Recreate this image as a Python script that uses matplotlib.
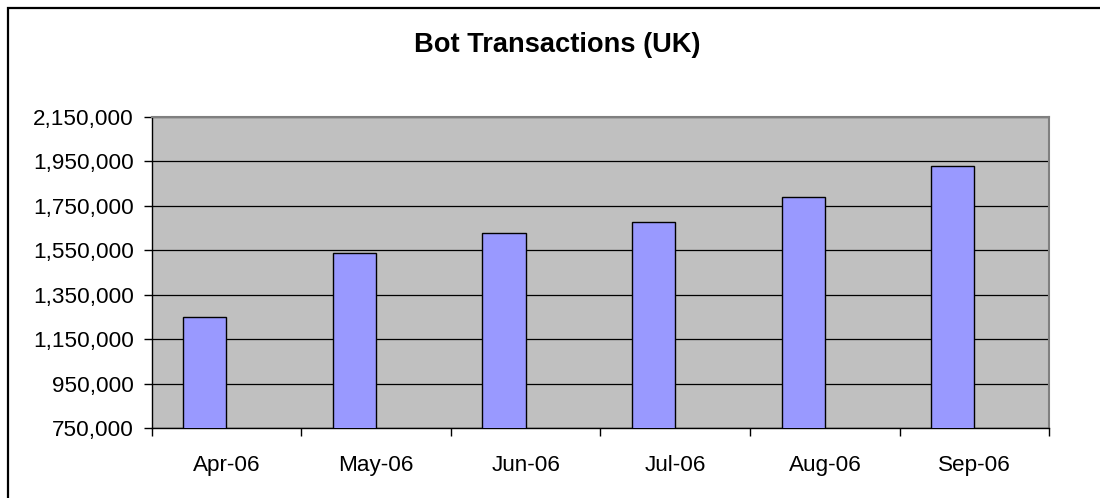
import matplotlib
matplotlib.use("Agg")
import matplotlib.pyplot as plt
from matplotlib.ticker import FuncFormatter, FixedLocator
from matplotlib.patches import Rectangle

months = ["Apr-06", "May-06", "Jun-06", "Jul-06", "Aug-06", "Sep-06"]
transactions = [1251000, 1536000, 1626000, 1675000, 1789000, 1928000]
y_ticks = [750000, 950000, 1150000, 1350000, 1550000, 1750000, 1950000, 2150000]
title = "Bot Transactions (UK)"

plt.rcParams['font.family'] = ['Liberation Sans', 'DejaVu Sans']

W, H = 1100, 498
fig = plt.figure(figsize=(W / 100, H / 100), dpi=100)
fig.patch.set_facecolor("white")

# outer chart frame (only top and left edges visible)
fig.patches.append(Rectangle((8 / W, -0.1), 1.2, (H - 8) / H + 0.1, transform=fig.transFigure,
                             fill=False, edgecolor="#000000", linewidth=1.6, zorder=0))

left, right = 151.7 / W, 1049.3 / W
top, bottom = (H - 116.7) / H, (H - 428.3) / H
ax = fig.add_axes([left, bottom, right - left, top - bottom])
ax.set_facecolor("#C0C0C0")

x = list(range(len(months)))
bar_w = 0.29
ax.bar([i - bar_w for i in x], transactions, width=bar_w, align="edge",
       color="#9999FF", edgecolor="#000000", linewidth=1.0, zorder=3)

ax.set_xlim(-0.5, len(months) - 0.5)
ax.set_ylim(y_ticks[0], y_ticks[-1])
ax.set_yticks(y_ticks)
ax.yaxis.set_major_formatter(FuncFormatter(lambda v, p: f"{int(v):,}"))
ax.yaxis.grid(True, color="#000000", linewidth=0.9, zorder=1)
ax.set_axisbelow(True)

ax.set_xticks(x)
ax.set_xticklabels(months)
ax.xaxis.set_minor_locator(FixedLocator([i - 0.5 for i in range(len(months) + 1)]))
ax.tick_params(axis="x", which="major", length=0, pad=19, labelsize=16.2)
ax.tick_params(axis="x", which="minor", length=6, width=1, direction="out", color="#000000")
ax.tick_params(axis="y", which="major", length=6, width=1, direction="out", pad=7, labelsize=16.2)

for s in ["left", "bottom"]:
    ax.spines[s].set_color("#000000")
    ax.spines[s].set_linewidth(1.0)
for s in ["top", "right"]:
    ax.spines[s].set_color("#808080")
    ax.spines[s].set_linewidth(1.5)

fig.text(557 / W, (H - 45) / H, title, ha="center", va="center",
         fontsize=19.6, fontweight="bold")

fig.savefig("out.png", dpi=100)
